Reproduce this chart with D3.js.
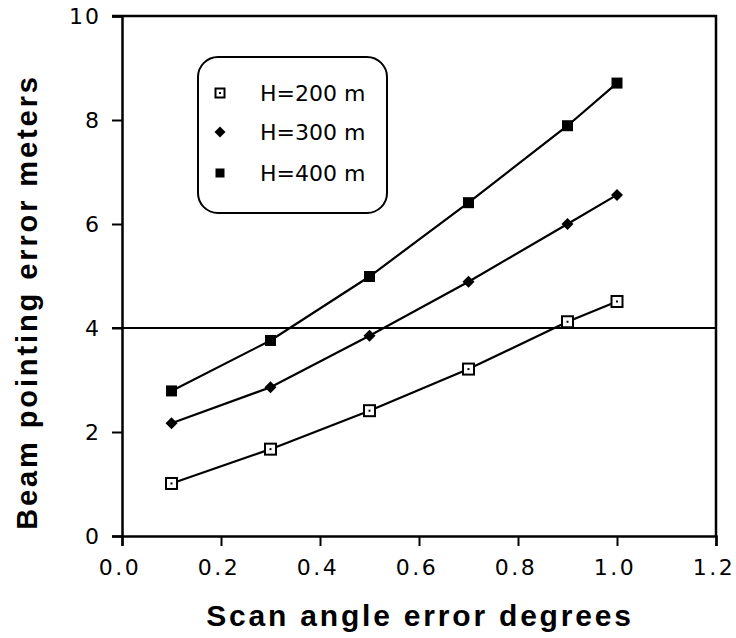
<!DOCTYPE html>
<html>
<head>
<meta charset="utf-8">
<script src="https://cdn.jsdelivr.net/npm/d3@7"></script>
<style>
  body { margin: 0; background: #fff; }
  svg { display: block; }
  .tick text { font-family: "DejaVu Sans", sans-serif; }
</style>
</head>
<body>
<div class="graph"></div>
<script>
// values
var scanAngle = [0.1, 0.3, 0.5, 0.7, 0.9, 1.0];
var h200 = [1.01, 1.67, 2.41, 3.21, 4.12, 4.51];
var h300 = [2.17, 2.86, 3.85, 4.89, 6.0, 6.56];
var h400 = [2.79, 3.76, 4.99, 6.41, 7.89, 8.71];
var seriesNames = ["H=200 m", "H=300 m", "H=400 m"];
var xTicks = [0.0, 0.2, 0.4, 0.6, 0.8, 1.0, 1.2];
var yTicks = [0, 2, 4, 6, 8, 10];
var refLine = 4;

var W = 736, H = 638;
var svg = d3.select(".graph").append("svg")
  .attr("width", W).attr("height", H);

var x = d3.scaleLinear().domain([0, 1.2]).range([122, 716]);
var y = d3.scaleLinear().domain([0, 10]).range([536, 16]);

// minor ticks: two between each labelled one
var xMinor = [], yMinor = [];
for (var i = 0; i < xTicks.length - 1; i++) {
  var step = (xTicks[i + 1] - xTicks[i]) / 3;
  xMinor.push(xTicks[i] + step, xTicks[i] + 2 * step);
}
for (var j = 0; j < yTicks.length - 1; j++) {
  var s = (yTicks[j + 1] - yTicks[j]) / 3;
  yMinor.push(yTicks[j] + s, yTicks[j] + 2 * s);
}

// frame (top + right sides)
svg.append("path")
  .attr("d", "M" + (x(0) - 10) + "," + y(10) + "H" + x(1.2) + "V" + y(0))
  .attr("fill", "none").attr("stroke", "#000").attr("stroke-width", 2.5);

var gx = svg.append("g").attr("transform", "translate(0," + y(0) + ")");
gx.call(d3.axisBottom(x).tickValues(xMinor).tickSize(5).tickFormat(""));
gx.call(d3.axisBottom(x).tickValues(xTicks).tickSize(10).tickPadding(13)
  .tickFormat(d3.format(".1f")));
gx.selectAll("path.domain").attr("stroke-width", 2.5);
gx.selectAll(".tick line").attr("stroke-width", 2);
gx.selectAll(".tick text")
  .attr("font-size", 22).attr("letter-spacing", 2.5).attr("dx", -2.5).attr("fill", "#000");

var gy = svg.append("g").attr("transform", "translate(" + x(0) + ",0)");
gy.call(d3.axisLeft(y).tickValues(yMinor).tickSize(5).tickFormat(""));
gy.call(d3.axisLeft(y).tickValues(yTicks).tickSize(10).tickPadding(11)
  .tickFormat(d3.format("d")));
gy.selectAll("path.domain").attr("stroke-width", 2.5);
gy.selectAll(".tick line").attr("stroke-width", 2);
gy.selectAll(".tick text")
  .attr("font-size", 22).attr("letter-spacing", 2).attr("fill", "#000");

// reference line at 4 m
svg.append("line")
  .attr("x1", x(0) - 10).attr("x2", x(1.2))
  .attr("y1", y(refLine)).attr("y2", y(refLine))
  .attr("stroke", "#000").attr("stroke-width", 2);

// series
var allSeries = [h200, h300, h400];
var line = d3.line()
  .x(function(d, k) { return x(scanAngle[k]); })
  .y(function(d) { return y(d); });

allSeries.forEach(function(vals) {
  svg.append("path")
    .attr("d", line(vals))
    .attr("fill", "none").attr("stroke", "#000").attr("stroke-width", 2.2);
});

function drawMarker(g, kind, cx, cy, sz) {
  if (kind == 0) {
    g.append("rect").attr("x", cx - sz / 2).attr("y", cy - sz / 2)
      .attr("width", sz).attr("height", sz)
      .attr("fill", "#fff").attr("stroke", "#000").attr("stroke-width", 2);
    g.append("rect").attr("x", cx - 1).attr("y", cy - 1)
      .attr("width", 2).attr("height", 2).attr("fill", "#000");
  } else if (kind == 1) {
    var r = sz / 2;
    g.append("path")
      .attr("d", "M" + cx + "," + (cy - r) + "L" + (cx + r) + "," + cy +
        "L" + cx + "," + (cy + r) + "L" + (cx - r) + "," + cy + "Z")
      .attr("fill", "#000");
  } else {
    g.append("rect").attr("x", cx - sz / 2).attr("y", cy - sz / 2)
      .attr("width", sz).attr("height", sz).attr("fill", "#000");
  }
}

var marks = svg.append("g");
allSeries.forEach(function(vals, si) {
  vals.forEach(function(v, k) {
    drawMarker(marks, si, x(scanAngle[k]), y(v), si == 1 ? 12 : 11);
  });
});

// legend
var lg = svg.append("g");
lg.append("rect")
  .attr("x", 198).attr("y", 57).attr("width", 189).attr("height", 156)
  .attr("rx", 20).attr("ry", 20)
  .attr("fill", "#fff").attr("stroke", "#000").attr("stroke-width", 2);
var rowY = [93, 132, 173];
seriesNames.forEach(function(name, si) {
  drawMarker(lg, si, 220, rowY[si], si == 1 ? 11 : 9);
  lg.append("text")
    .attr("x", 260).attr("y", rowY[si] + 8)
    .attr("font-family", "DejaVu Sans, sans-serif").attr("font-size", 22)
    .text(name);
});

// axis titles
svg.append("text")
  .attr("x", 420).attr("y", 626)
  .attr("text-anchor", "middle")
  .attr("font-family", "Liberation Sans, Arial, sans-serif")
  .attr("font-weight", "bold").attr("font-size", 30).attr("letter-spacing", 2.8)
  .text("Scan angle error degrees");

svg.append("text")
  .attr("transform", "translate(37,302) rotate(-90)")
  .attr("text-anchor", "middle")
  .attr("font-family", "Liberation Sans, Arial, sans-serif")
  .attr("font-weight", "bold").attr("font-size", 29).attr("letter-spacing", 2.9)
  .text("Beam pointing error meters");
</script>
</body>
</html>
